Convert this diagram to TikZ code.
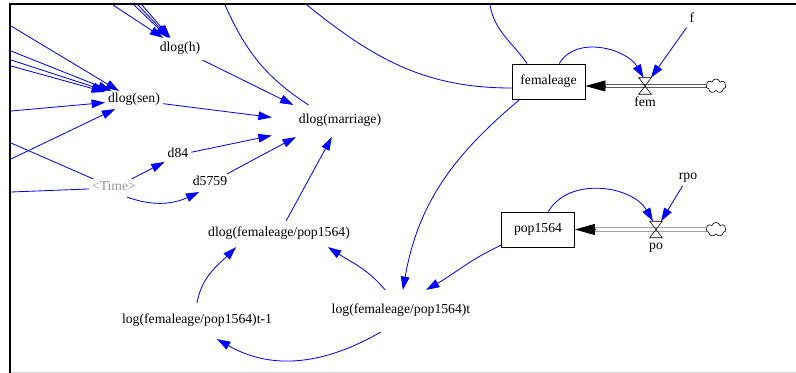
\documentclass[tikz,border=0pt]{standalone}
\usepackage{fontspec}
\setmainfont{Liberation Serif}
\usepackage{tikz}
\usetikzlibrary{arrows.meta, calc, shapes.symbols}
\definecolor{linkblue}{RGB}{0,0,255}
\definecolor{shadowgray}{RGB}{150,150,150}

\begin{document}
\begin{tikzpicture}[x=0.03cm, y=-0.03cm, font=\fontsize{11.7}{14}\selectfont,
    var/.style={inner xsep=2.5pt, inner ysep=2.5pt, text height=0.75em, text depth=0.25em},
    stock/.style={draw, line width=0.7pt, minimum width=2.19cm, minimum height=1.05cm, inner sep=0pt},
    valve/.style={inner sep=0pt, minimum width=0.36cm, minimum height=0.48cm},
    sink/.style={cloud, draw, cloud puffs=7, aspect=1.4, inner sep=0pt, minimum width=0.6cm, minimum height=0.42cm, line width=0.5pt},
    link/.style={linkblue, line width=0.7pt, -{Triangle[length=4mm, width=2.6mm]}},
    plainlink/.style={linkblue, line width=0.7pt},
    pipe/.style={double, double distance=2.2pt, line width=0.6pt},
    flowhead/.style={-{Triangle[length=6mm, width=3.3mm]}, line width=0.6pt}]
    \useasboundingbox (0,0) rectangle (796,373);

    % variables
    \node[var, inner ysep=4.3pt] (dlogh) at (180,49) {dlog(h)};
    \node[var] (dlogsen) at (134,100) {dlog(sen)};
    \node[var, inner xsep=23pt, inner ysep=8.5pt] (dlogmar) at (340,121) {dlog(marriage)};
    \node[var] (d84) at (178,155) {d84};
    \node[var] (d5759) at (210,183) {d5759};
    \node[var, text=shadowgray] (time) at (114,188) {\textless Time\textgreater};
    \node[var, inner ysep=6pt] (dlogfp) at (279,234) {dlog(femaleage/pop1564)};
    \node[var, inner ysep=10.2pt] (logtm) at (197,321) {log(femaleage/pop1564)t-1};
    \node[var, inner ysep=12.8pt] (logt) at (401,311) {log(femaleage/pop1564)t};
    \node[var] (f) at (692,20) {f};
    \node[var] (rpo) at (688,177) {rpo};

    % stocks and flows
    \node[stock] (femaleage) at (548.5,81.5) {femaleage};
    \node[stock] (pop) at (538,229.5) {pop1564};
    \node[valve] (femv) at (645,86) {};
    \node[valve] (pov) at (656,229.5) {};
    \node[var] (femname) at (645,104) {fem};
    \node[var] (poname) at (656,247) {po};
    \node[sink] (cloud1) at (716,86) {};
    \node[sink] (cloud2) at (716,229.5) {};

    \coordinate (femhead) at ($(femaleage.east |- femv)+(20,0)$);
    \coordinate (pophead) at ($(pop.east |- pov)+(20,0)$);
    \draw[pipe] (cloud1.west) -- (femhead);
    \draw[flowhead] (femhead) -- (femaleage.east |- femv);
    \draw[pipe] (cloud2.west) -- (pophead);
    \draw[flowhead] (pophead) -- (pop.east |- pov);
    \foreach \v in {femv, pov}
        \draw[line width=0.5pt] (\v.north west) -- (\v.north east) -- (\v.south west) -- (\v.south east) -- cycle;

    % ends outside the frame
    \coordinate (inH1) at (113,5);
    \coordinate (inH2) at (134,5);
    \coordinate (inH3) at (138,5);
    \coordinate (inH4) at (142,5);
    \coordinate (inS1) at (11,26);
    \coordinate (inS2) at (11,51);
    \coordinate (inS3) at (11,60);
    \coordinate (inS4) at (11,66);
    \coordinate (inS5) at (11,111);
    \coordinate (inS6) at (11,159);
    \coordinate (outT1) at (11,143);
    \coordinate (outT2) at (11,192);
    \coordinate (outM) at (225,5);
    \coordinate (outF1) at (307,5);
    \coordinate (outF2) at (490,5);

    % links
    \foreach \s in {inH1, inH2, inH3, inH4}
        \draw[link] (\s) -- (dlogh);
    \foreach \s in {inS1, inS2, inS3, inS4, inS5, inS6}
        \draw[link] (\s) -- (dlogsen);
    \draw[plainlink] (time) -- (outT1);
    \draw[plainlink] (time) -- (outT2);
    \draw[link] (dlogh) -- (dlogmar.161);
    \draw[link] (dlogsen) -- (dlogmar.177);
    \draw[link] (d84) -- (dlogmar.192);
    \draw[link] (d5759) -- (dlogmar.200);
    \draw[link] (dlogfp) -- (dlogmar.243);
    \draw[link] (time) -- (d84);
    \draw[link] (time.-35) to[out=-20, in=-155] (d5759.220);
    \draw[plainlink] (dlogmar.153) to[out=147, in=-66] (outM);
    \draw[plainlink] (femaleage.190) to[out=180, in=-39] (outF1);
    \draw[plainlink] (femaleage.140) to[out=125, in=-80] (outF2);
    \draw[link] (femaleage.212) to[out=-140, in=80] (logt.85);
    \draw[link] (pop.203) to[out=-155, in=30] (logt.40);
    \draw[link] (femaleage.59) to[out=60, in=120] (femv.100);
    \draw[link] (f) -- (femv);
    \draw[link] (pop.60) to[out=60, in=120] (pov.110);
    \draw[link] (rpo) -- (pov);
    \draw[link] (logtm.90) to[out=80, in=225] (dlogfp.197);
    \draw[link] (logt.127) to[out=130, in=-33] (dlogfp.-15);
    \draw[link] (logt.226) to[out=-150, in=-30] (logtm.-42);

    % frame
    \draw[gray!35, line width=0.8pt] (10,372) -- (796,372);
    \draw[line width=2.5pt] (10,373) -- (10,4) -- (796,4);
\end{tikzpicture}
\end{document}
